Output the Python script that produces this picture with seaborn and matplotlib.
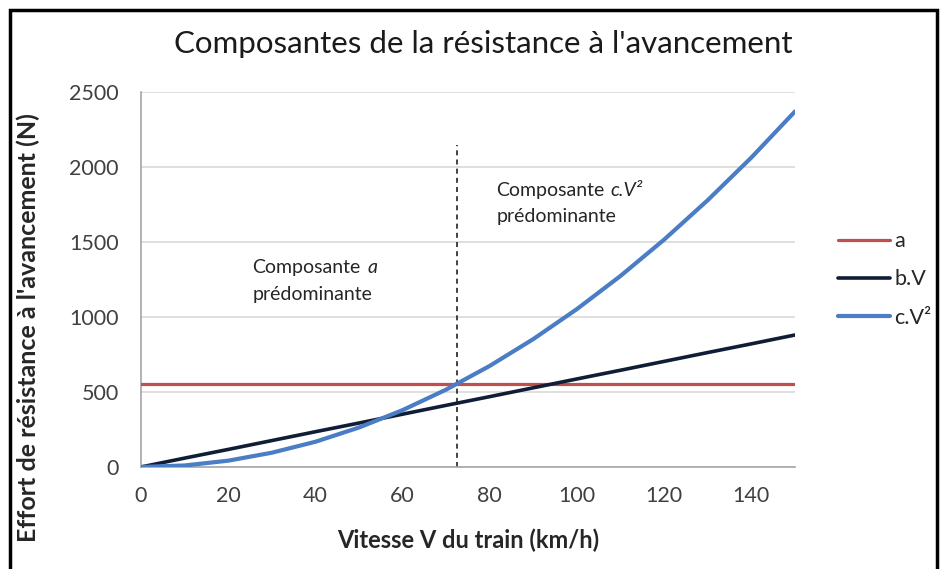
import numpy as np
import pandas as pd
import matplotlib
matplotlib.use("Agg")
import matplotlib.pyplot as plt
import seaborn as sns
from matplotlib.patches import Rectangle

# Data
vitesse = [0, 10, 20, 30, 40, 50, 60, 70, 80, 90, 100, 110, 120, 130, 140, 150]
serie_a = [550, 550, 550, 550, 550, 550, 550, 550, 550, 550, 550, 550, 550, 550, 550, 550]
serie_bV = [0, 59, 117, 176, 235, 293, 352, 411, 469, 528, 587, 645, 704, 763, 821, 880]
serie_cV2 = [0, 10, 42, 95, 168, 263, 379, 516, 674, 853, 1053, 1274, 1516, 1779, 2063, 2370]
series_names = ["a", "b.V", "c.V²"]
couleurs = ["#C0504D", "#101D36", "#4A7DC4"]
x_ticks = [0, 20, 40, 60, 80, 100, 120, 140]
y_ticks = [0, 500, 1000, 1500, 2000, 2500]
v_seuil = 72.5

sns.set_theme(style="white")
plt.rcParams["font.family"] = ["Lato", "DejaVu Sans"]

df = pd.DataFrame({
    "V": vitesse * 3,
    "Effort": serie_a + serie_bV + serie_cV2,
    "Composante": [series_names[0]] * len(vitesse) + [series_names[1]] * len(vitesse) + [series_names[2]] * len(vitesse),
})

fig = plt.figure(figsize=(9.43, 5.69), dpi=100)
ax = fig.add_axes([0.1495, 0.1793, 0.6935, 0.659])

widths = [2.3, 2.6, 3.0]
for name, col, lw in zip(series_names, couleurs, widths):
    sub = df[df["Composante"] == name]
    sns.lineplot(data=sub, x="V", y="Effort", ax=ax, color=col, linewidth=lw,
                 label=name, zorder=3)

ax.set_xlim(0, 150)
ax.set_ylim(0, 2500)
ax.set_xticks(x_ticks)
ax.set_yticks(y_ticks)
ax.yaxis.grid(True, color="#D9D9D9", linewidth=1.2)
ax.xaxis.grid(False)
for s in ["top", "right"]:
    ax.spines[s].set_visible(False)
for s in ["left", "bottom"]:
    ax.spines[s].set_color("#A6A6A6")
    ax.spines[s].set_linewidth(1.2)
ax.tick_params(axis="both", which="major", direction="out", length=6, width=1.1,
               color="#A6A6A6", labelsize=15.5, labelcolor="#404040", pad=10)
ax.tick_params(axis="x", pad=8)

ax.set_xlabel("Vitesse V du train (km/h)", fontsize=17, fontweight="bold",
              color="#262626")
ax.set_ylabel("Effort de résistance à l'avancement (N)", fontsize=18,
              fontweight="bold", color="#262626")
ax.xaxis.set_label_coords(0.5, -0.165)
ax.yaxis.set_label_coords(-0.155, 0.373)

ax.plot([v_seuil, v_seuil], [0, 2150], color="#222222", linestyle=(0, (3, 2.5)),
        linewidth=1.2, zorder=2)

ann_fs = 14
t1 = ax.text(25.6, 1290, "Composante", fontsize=ann_fs, color="#262626",
             va="baseline", ha="left")
ax.annotate("a", xy=(1, 0), xycoords=t1, xytext=(4.5, 0), textcoords="offset points",
            fontsize=ann_fs, color="#262626", fontstyle="italic",
            va="bottom", ha="left")
ax.text(25.6, 1110, "prédominante", fontsize=ann_fs, color="#262626",
        va="baseline", ha="left")

t2 = ax.text(81.5, 1805, "Composante", fontsize=ann_fs, color="#262626",
             va="baseline", ha="left")
ax.annotate("c.V²", xy=(1, 0), xycoords=t2, xytext=(4.5, 0), textcoords="offset points",
            fontsize=ann_fs, color="#262626", fontstyle="italic",
            va="bottom", ha="left")
ax.text(81.5, 1630, "prédominante", fontsize=ann_fs, color="#262626",
        va="baseline", ha="left")

fig.text(0.512, 0.922, "Composantes de la résistance à l'avancement",
         fontsize=22.5, color="#1a1a1a", ha="center", va="center")

leg = ax.legend(loc="center left", bbox_to_anchor=(1.053, 0.50), frameon=False,
                fontsize=15.5, handlelength=2.4, handletextpad=0.2,
                labelspacing=0.85, borderaxespad=0)
for t in leg.get_texts():
    t.set_color("#262626")

fig.patches.append(Rectangle((0.0105, -0.02), 0.983, 1.0017, transform=fig.transFigure,
                             fill=False, edgecolor="black", linewidth=2.5))

fig.savefig("out.png", dpi=100)
